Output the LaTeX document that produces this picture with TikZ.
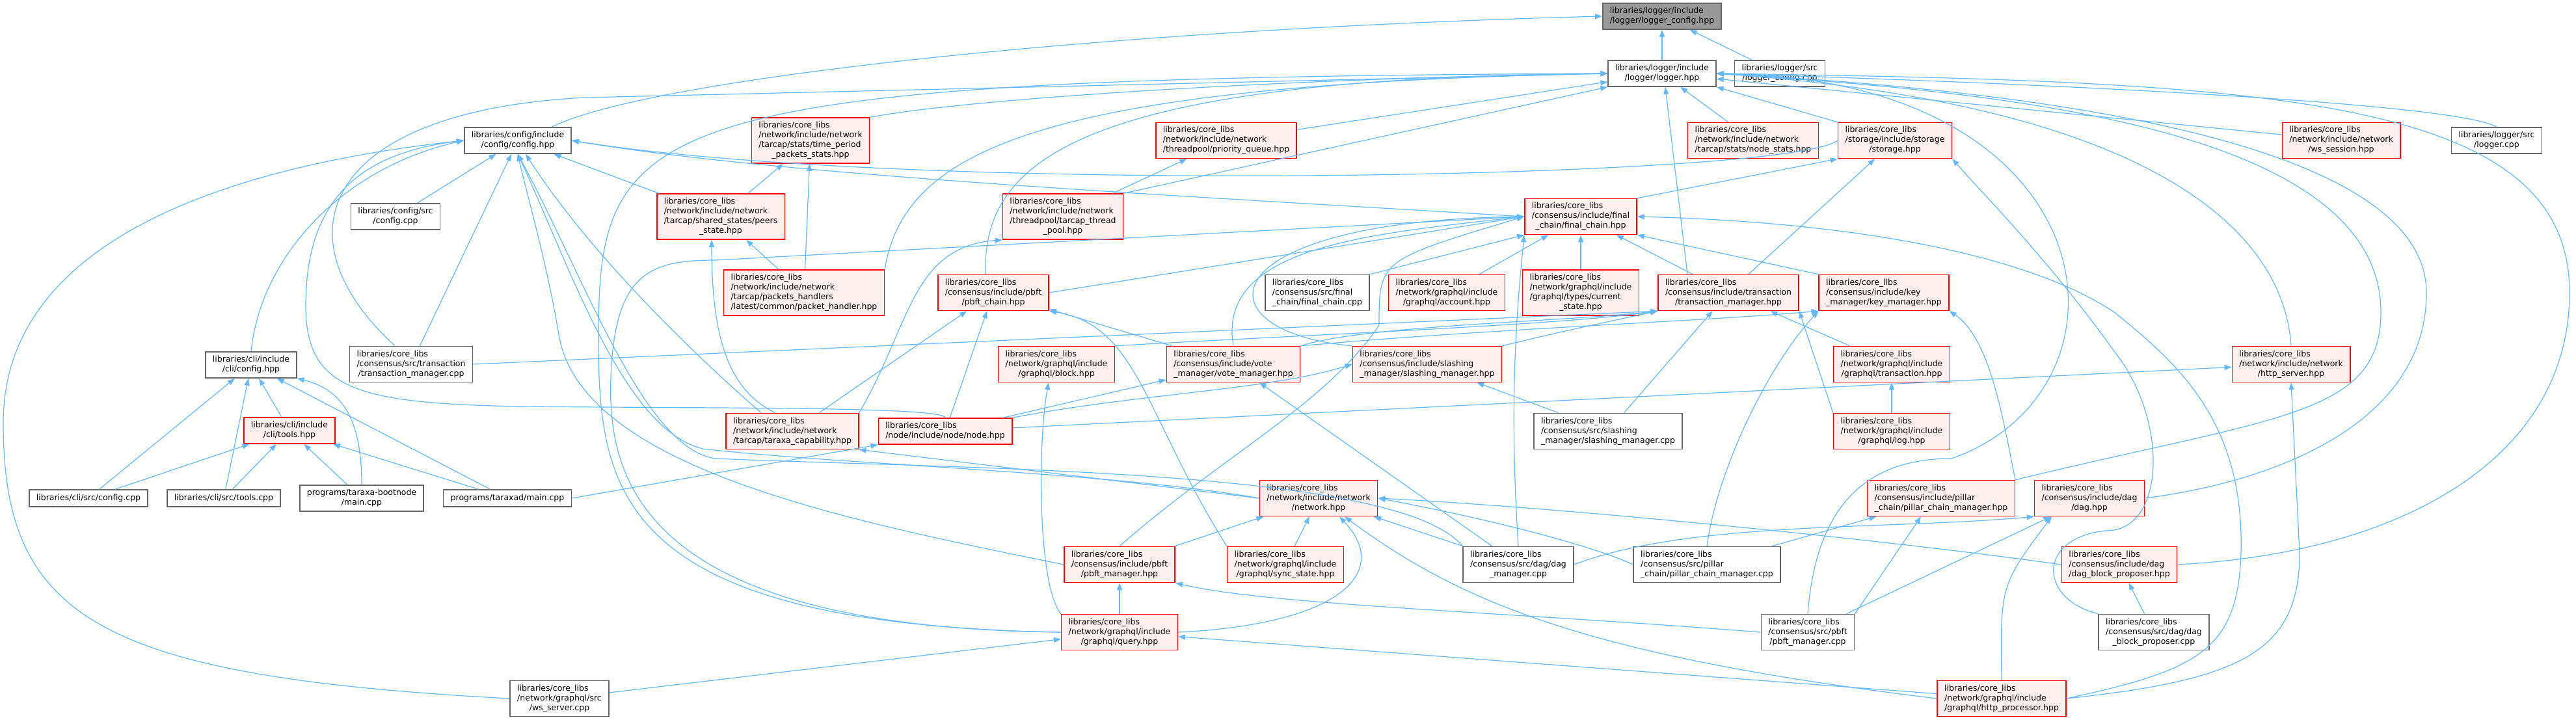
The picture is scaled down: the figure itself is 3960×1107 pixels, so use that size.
\documentclass[tikz,border=0pt]{standalone}
\usepackage{fontspec}
\setmainfont{DejaVu Sans}
\usetikzlibrary{arrows.meta}
\definecolor{edgeblue}{HTML}{63B8FF}
\definecolor{boxred}{HTML}{FF0000}
\definecolor{boxpink}{HTML}{FFF0F0}
\definecolor{boxgray}{HTML}{666666}
\definecolor{rootfill}{HTML}{999999}
\newcommand{\flab}[2]{\begin{tabular}{@{}l@{}}#1\\\multicolumn{1}{@{}c@{}}{#2}\end{tabular}}

\begin{document}
\begin{tikzpicture}[
    x=1pt, y=-1pt,
    wbox/.style={rectangle, draw=boxgray, fill=white, line width=1.5pt, inner xsep=11pt, inner ysep=5pt, minimum height=26pt, font=\fontsize{12.5}{15}\selectfont},
    rbox/.style={wbox, draw=boxred, fill=boxpink},
    gbox/.style={wbox, draw=boxgray, fill=rootfill},
    dep/.style={draw=edgeblue, line width=1.2pt, -{Triangle[length=11pt,width=8pt]}}
]
\fill[white] (0,0) rectangle (3960,1107);
\useasboundingbox (0,0) rectangle (3960,1107);

% Row 1: logger
\node[gbox] (lcfg) at (2555,25) {\flab{libraries/logger/include}{/logger/logger\_config.hpp}};
\node[wbox] (logger) at (2555,113) {\flab{libraries/logger/include}{/logger/logger.hpp}};
\node[wbox] (lcfgcpp) at (2736,113) {\flab{libraries/logger/src}{/logger\_config.cpp}};

% Row 2: config, stats, storage
\node[wbox] (cfg) at (796,216) {\flab{libraries/config/include}{/config/config.hpp}};
\node[rbox] (tpstats) at (1246,216) {\flab{libraries/core\_libs\\/network/include/network\\/tarcap/stats/time\_period}{\_packets\_stats.hpp}};
\node[rbox] (pq) at (1885,216) {\flab{libraries/core\_libs\\/network/include/network}{/threadpool/priority\_queue.hpp}};
\node[rbox] (nstats) at (2695,216) {\flab{libraries/core\_libs\\/network/include/network}{/tarcap/stats/node\_stats.hpp}};
\node[rbox] (storage) at (2913,216) {\flab{libraries/core\_libs\\/storage/include/storage}{/storage.hpp}};
\node[rbox] (wss) at (3599,216) {\flab{libraries/core\_libs\\/network/include/network}{/ws\_session.hpp}};
\node[wbox] (loggercpp) at (3838,216) {\flab{libraries/logger/src}{/logger.cpp}};

% Row 3: final chain
\node[wbox] (cfgcpp) at (608,333) {\flab{libraries/config/src}{/config.cpp}};
\node[rbox] (peers) at (1108,333) {\flab{libraries/core\_libs\\/network/include/network\\/tarcap/shared\_states/peers}{\_state.hpp}};
\node[rbox] (tpool) at (1634,333) {\flab{libraries/core\_libs\\/network/include/network\\/threadpool/tarcap\_thread}{\_pool.hpp}};
\node[rbox] (fchain) at (2430,333) {\flab{libraries/core\_libs\\/consensus/include/final}{\_chain/final\_chain.hpp}};

% Row 4: chain users
\node[rbox] (pkth) at (1236,450) {\flab{libraries/core\_libs\\/network/include/network\\/tarcap/packets\_handlers}{/latest/common/packet\_handler.hpp}};
\node[rbox] (pbftc) at (1527,450) {\flab{libraries/core\_libs\\/consensus/include/pbft}{/pbft\_chain.hpp}};
\node[wbox] (fccpp) at (2025,450) {\flab{libraries/core\_libs\\/consensus/src/final}{\_chain/final\_chain.cpp}};
\node[rbox] (account) at (2224,450) {\flab{libraries/core\_libs\\/network/graphql/include}{/graphql/account.hpp}};
\node[rbox] (cstate) at (2430,450) {\flab{libraries/core\_libs\\/network/graphql/include\\/graphql/types/current}{\_state.hpp}};
\node[rbox] (txm) at (2657,450) {\flab{libraries/core\_libs\\/consensus/include/transaction}{/transaction\_manager.hpp}};
\node[rbox] (keym) at (2896,450) {\flab{libraries/core\_libs\\/consensus/include/key}{\_manager/key\_manager.hpp}};

% Row 5: managers
\node[wbox] (txmcpp) at (632,560) {\flab{libraries/core\_libs\\/consensus/src/transaction}{/transaction\_manager.cpp}};
\node[wbox] (clicfg) at (386,561) {\flab{libraries/cli/include}{/cli/config.hpp}};
\node[rbox] (gblock) at (1624,560) {\flab{libraries/core\_libs\\/network/graphql/include}{/graphql/block.hpp}};
\node[rbox] (votem) at (1896,560) {\flab{libraries/core\_libs\\/consensus/include/vote}{\_manager/vote\_manager.hpp}};
\node[rbox] (slashm) at (2194,560) {\flab{libraries/core\_libs\\/consensus/include/slashing}{\_manager/slashing\_manager.hpp}};
\node[rbox] (gtx) at (2908,560) {\flab{libraries/core\_libs\\/network/graphql/include}{/graphql/transaction.hpp}};
\node[rbox] (httpsrv) at (3522,560) {\flab{libraries/core\_libs\\/network/include/network}{/http\_server.hpp}};

% Row 6: cli, node
\node[rbox] (clitools) at (445,662) {\flab{libraries/cli/include}{/cli/tools.hpp}};
\node[rbox] (tcap) at (1218,663) {\flab{libraries/core\_libs\\/network/include/network}{/tarcap/taraxa\_capability.hpp}};
\node[rbox] (nodehpp) at (1453,663) {\flab{libraries/core\_libs}{/node/include/node/node.hpp}};
\node[wbox] (slashcpp) at (2472,663) {\flab{libraries/core\_libs\\/consensus/src/slashing}{\_manager/slashing\_manager.cpp}};
\node[rbox] (glog) at (2908,663) {\flab{libraries/core\_libs\\/network/graphql/include}{/graphql/log.hpp}};

% Row 7: programs, network, dag
\node[wbox] (clicfgcpp) at (136,766) {libraries/cli/src/config.cpp};
\node[wbox] (clitoolscpp) at (344,766) {libraries/cli/src/tools.cpp};
\node[wbox] (bootmain) at (556,766) {\flab{programs/taraxa-bootnode}{/main.cpp}};
\node[wbox] (tmain) at (780,766) {programs/taraxad/main.cpp};
\node[rbox] (network) at (2027,766) {\flab{libraries/core\_libs\\/network/include/network}{/network.hpp}};
\node[rbox] (pillarm) at (2984,766) {\flab{libraries/core\_libs\\/consensus/include/pillar}{\_chain/pillar\_chain\_manager.hpp}};
\node[rbox] (dag) at (3212,766) {\flab{libraries/core\_libs\\/consensus/include/dag}{/dag.hpp}};

% Row 8
\node[rbox] (pbftm) at (1721,868) {\flab{libraries/core\_libs\\/consensus/include/pbft}{/pbft\_manager.hpp}};
\node[rbox] (syncst) at (1976,868) {\flab{libraries/core\_libs\\/network/graphql/include}{/graphql/sync\_state.hpp}};
\node[wbox] (dagmcpp) at (2334,868) {\flab{libraries/core\_libs\\/consensus/src/dag/dag}{\_manager.cpp}};
\node[wbox] (pillarcpp) at (2624,868) {\flab{libraries/core\_libs\\/consensus/src/pillar}{\_chain/pillar\_chain\_manager.cpp}};
\node[rbox] (dagbp) at (3258,868) {\flab{libraries/core\_libs\\/consensus/include/dag}{/dag\_block\_proposer.hpp}};

% Row 9-10
\node[rbox] (query) at (1721,972) {\flab{libraries/core\_libs\\/network/graphql/include}{/graphql/query.hpp}};
\node[wbox] (pbftcpp) at (2779,972) {\flab{libraries/core\_libs\\/consensus/src/pbft}{/pbft\_manager.cpp}};
\node[wbox] (dagbpcpp) at (3311,972) {\flab{libraries/core\_libs\\/consensus/src/dag/dag}{\_block\_proposer.cpp}};
\node[wbox] (wsserver) at (860,1074) {\flab{libraries/core\_libs\\/network/graphql/src}{/ws\_server.cpp}};
\node[rbox] (httpproc) at (3077,1074) {\flab{libraries/core\_libs\\/network/graphql/include}{/graphql/http\_processor.hpp}};

% Includes of logger_config.hpp
\draw[dep] (logger) -- (lcfg);
\draw[dep] (lcfgcpp) -- (lcfg);
\draw[dep] ([xshift=52pt]cfg.north) .. controls (1000,120) and (1700,45) .. (lcfg.west);

% Includes of logger.hpp
\draw[dep] (tpstats.north east) .. controls (1500,150) and (2000,120) .. (logger.west);
\draw[dep] (pq) -- (logger);
\draw[dep] (tpool.north east) -- (logger.south west);
\draw[dep] ([xshift=-12pt]pbftc.north) .. controls (1510,250) and (1650,120) .. (logger.west);
\draw[dep] (pkth.north east) .. controls (1390,230) and (1600,130) .. (logger.west);
\draw[dep] ([xshift=-25pt]txmcpp.north) .. controls (420,360) and (500,170) .. (900,150) -- (logger.west);
\draw[dep] (query.west) .. controls (950,960) and (920,760) .. (920,520) .. controls (920,180) and (980,120) .. (logger.west);
\draw[dep] (nstats) -- (logger);
\draw[dep] (storage.north west) -- (logger.south east);
\draw[dep] ([xshift=-63pt]txm.north) -- ([xshift=5pt]logger.south);
\draw[dep] (wss) -- (logger);
\draw[dep] (loggercpp.north) .. controls (3780,160) and (3200,130) .. (logger.east);
\draw[dep] (httpsrv.north) .. controls (3510,350) and (3300,160) .. (logger.east);
\draw[dep] (pillarm.north east) .. controls (3500,640) and (3660,640) .. (3660,480) .. controls (3660,190) and (3050,140) .. (logger.east);
\draw[dep] (dag.east) .. controls (3500,740) and (3730,650) .. (3730,450) .. controls (3730,220) and (3150,140) .. (logger.east);
\draw[dep] (dagbp.east) .. controls (3700,850) and (3950,700) .. (3950,450) .. controls (3950,150) and (3500,125) .. (logger.east);
\draw[dep] (pbftcpp.north) .. controls (2790,800) and (2850,705) .. (3000,705) .. controls (3300,600) and (3250,120) .. (logger.east);

% Includes of config.hpp
\draw[dep] (cfgcpp) -- (cfg);
\draw[dep] (txmcpp) -- (cfg);
\draw[dep] (clicfg.north) .. controls (400,400) and (520,260) .. (cfg.west);
\draw[dep] (nodehpp.north) .. controls (1450,625) and (1100,628) .. (800,625) .. controls (550,620) and (470,600) .. (470,470) .. controls (470,300) and (560,235) .. (cfg.west);
\draw[dep] (wsserver.west) .. controls (150,1040) and (5,950) .. (5,650) .. controls (5,350) and (400,250) .. (cfg.west);
\draw[dep] (peers) -- (cfg);
\draw[dep] (fchain.west) .. controls (1800,300) and (1200,270) .. (cfg.east);
\draw[dep] ([xshift=-48pt]tcap.north) .. controls (1050,530) and (900,380) .. ([xshift=12pt]cfg.south);
\draw[dep] (pbftm.west) .. controls (1300,800) and (900,720) .. (860,520) .. controls (840,400) and (810,300) .. (cfg.south);
\draw[dep] (network.west) .. controls (1700,725) and (1300,715) .. (1080,690) .. controls (960,660) and (880,420) .. (cfg.south);
\draw[dep] (dagmcpp.north west) .. controls (2150,720) and (1500,722) .. (1100,705) .. controls (990,690) and (900,430) .. (cfg.south);
\draw[dep] (storage.west) .. controls (2750,275) and (1400,300) .. (cfg.east);

% Network stats and handlers
\draw[dep] (peers) -- (tpstats);
\draw[dep] (pkth) -- (tpstats);
\draw[dep] (pkth) -- (peers);
\draw[dep] ([xshift=-26pt]tcap.north) .. controls (1120,600) and (1094,520) .. ([xshift=-14pt]peers.south);
\draw[dep] (tcap.north east) .. controls (1400,500) and (1400,380) .. (tpool.south west);
\draw[dep] (tpool) -- (pq);

% cli and programs
\draw[dep] (clitools) -- (clicfg);
\draw[dep] (clicfgcpp) -- (clicfg);
\draw[dep] (clicfgcpp) -- (clitools);
\draw[dep] (clitoolscpp) -- (clicfg);
\draw[dep] (clitoolscpp) -- (clitools);
\draw[dep] (bootmain) -- (clitools);
\draw[dep] (bootmain.north) .. controls (556,650) and (530,600) .. (clicfg.south east);
\draw[dep] (tmain) -- (clitools);
\draw[dep] (tmain) -- (clicfg);
\draw[dep] (tmain.east) -- (nodehpp.south west);

% node, capability, pbft
\draw[dep] (network.west) -- (tcap.south east);
\draw[dep] (nodehpp) -- (httpsrv);
\draw[dep] (nodehpp) -- (votem);
\draw[dep] (nodehpp) -- (pbftc);
\draw[dep] (nodehpp.north east) .. controls (1750,605) and (1950,600) .. (slashm.west);
\draw[dep] (tcap) -- (pbftc);
\draw[dep] (votem) -- (pbftc);
\draw[dep] (syncst.north west) .. controls (1760,640) and (1750,500) .. (pbftc.south east);
\draw[dep] (pbftc.east) -- (fchain.west);
\draw[dep] (query.north west) .. controls (1595,900) and (1595,680) .. ([xshift=-12pt]gblock.south);

% transaction manager
\draw[dep] (txmcpp.east) -- (txm.south west);
\draw[dep] (gblock.north east) .. controls (2000,515) and (2400,500) .. (txm.south west);
\draw[dep] (votem.north east) .. controls (2100,500) and (2400,495) .. (txm.south west);
\draw[dep] (slashm.north east) .. controls (2400,510) .. (txm.south west);
\draw[dep] (slashcpp) -- (txm);
\draw[dep] (gtx) -- (txm);
\draw[dep] (glog.north west) -- (txm.south east);
\draw[dep] (glog) -- (gtx);

% final chain
\draw[dep] (votem.north) .. controls (1870,380) and (2100,360) .. (fchain.west);
\draw[dep] (slashm.north west) .. controls (1840,510) and (1850,340) .. (fchain.west);
\draw[dep] (pbftm.north) .. controls (1880,700) and (2040,620) .. (2120,500) .. controls (2120,400) .. (fchain.west);
\draw[dep] (query.west) .. controls (960,965) and (930,720) .. (940,560) .. controls (950,420) and (1000,400) .. (1100,400) -- (fchain.west);
\draw[dep] (fccpp.north east) -- (fchain.south west);
\draw[dep] (account) -- (fchain);
\draw[dep] (cstate) -- (fchain);
\draw[dep] (txm) -- (fchain);
\draw[dep] (keym.north west) -- (fchain.south east);
\draw[dep] (dagmcpp.north) .. controls (2322,650) and (2327,520) .. (fchain.south west);
\draw[dep] (httpproc.east) .. controls (3380,1030) and (3440,1000) .. (3445,850) .. controls (3450,650) and (3350,560) .. (3250,480) .. controls (3100,380) and (2800,340) .. (fchain.east);

% storage and key manager
\draw[dep] (fchain.north east) -- (storage.south west);
\draw[dep] (txm) -- (storage);
\draw[dep] (dagbpcpp.north west) .. controls (3130,920) and (3130,820) .. (3250,815) .. controls (3330,800) and (3330,640) .. (3250,540) .. controls (3150,400) and (3050,300) .. (storage.south east);
\draw[dep] (votem.north east) .. controls (2300,505) and (2600,495) .. (keym.south west);
\draw[dep] (pillarcpp.north) .. controls (2640,720) and (2720,560) .. (keym.south west);
\draw[dep] (pillarm.north east) .. controls (3080,650) and (3060,520) .. (keym.south east);

% slashing
\draw[dep] (slashcpp) -- (slashm);

% network.hpp
\draw[dep] (pbftm) -- (network);
\draw[dep] (syncst) -- (network);
\draw[dep] (query.east) .. controls (2060,960) and (2140,880) .. ([xshift=32pt]network.south);
\draw[dep] (dagmcpp) -- (network);
\draw[dep] (pillarcpp.west) .. controls (2450,840) and (2300,800) .. (network.east);
\draw[dep] (dagbp.west) .. controls (2900,830) and (2400,780) .. (network.east);
\draw[dep] (httpproc.west) .. controls (2450,1010) and (2250,930) .. ([xshift=40pt]network.south);
\draw[dep] (dagmcpp) -- (votem);

% query, pbft manager, http
\draw[dep] (query) -- (pbftm);
\draw[dep] (httpproc) -- (query);
\draw[dep] (wsserver) -- (query);
\draw[dep] (pbftcpp.west) .. controls (2300,940) and (1950,930) .. (pbftm.south east);
\draw[dep] (httpproc.east) .. controls (3450,1045) and (3535,1000) .. (3535,850) -- (httpsrv.south);
\draw[dep] (httpproc.north) .. controls (3075,900) .. ([xshift=-58pt]dag.south);

% pillar chain and dag
\draw[dep] (pbftcpp.north east) -- ([xshift=-31pt]pillarm.south);
\draw[dep] (pillarcpp) -- (pillarm);
\draw[dep] (pbftcpp) -- (dag);
\draw[dep] (dagmcpp.east) .. controls (2600,800) and (2900,815) .. (dag.south west);
\draw[dep] (dagbpcpp) -- (dagbp);

\end{tikzpicture}
\end{document}
